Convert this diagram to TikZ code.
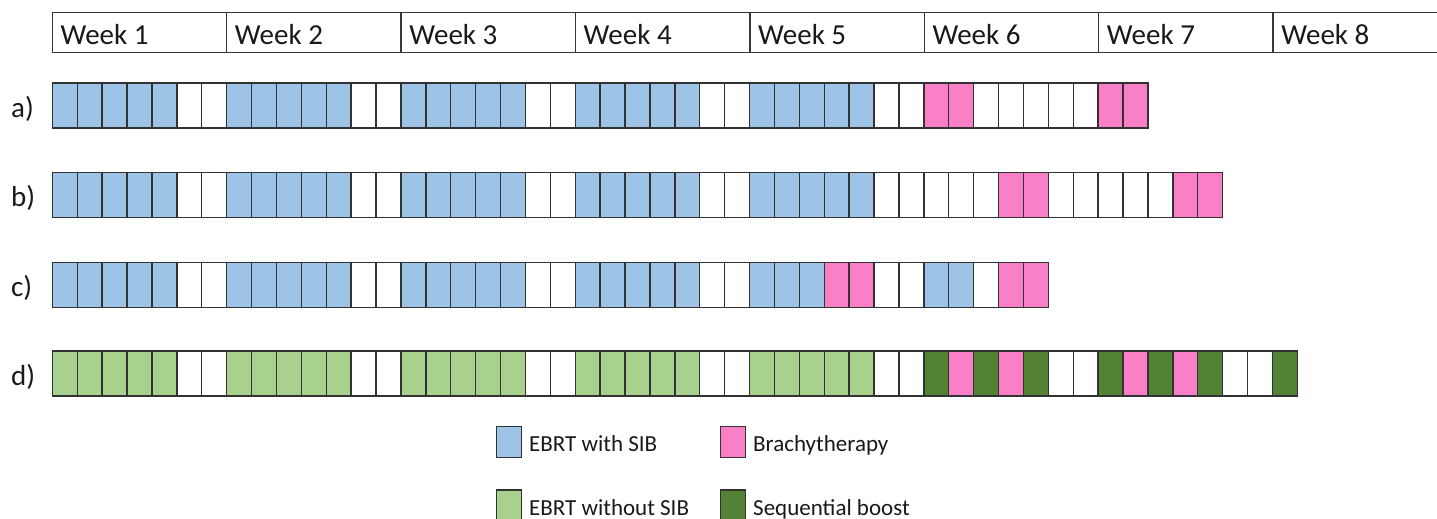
\documentclass[tikz,border=0pt]{standalone}
\usepackage{fontspec}
\setmainfont{Carlito}
\definecolor{ebrtblue}{RGB}{157,195,230}
\definecolor{brachy}{RGB}{249,128,199}
\definecolor{ebrtgreen}{RGB}{169,209,142}
\definecolor{seqgreen}{RGB}{84,130,53}
\definecolor{cellline}{RGB}{50,50,50}
\definecolor{headline}{RGB}{55,55,55}
\tikzset{
  cell/.style={draw=cellline, line width=1.4pt, minimum width=24.9pt, minimum height=45pt,
    inner sep=0pt, outer sep=0pt, anchor=north west},
  cB/.style={fill=ebrtblue}, cW/.style={fill=white}, cP/.style={fill=brachy},
  cG/.style={fill=ebrtgreen}, cD/.style={fill=seqgreen},
  weekbox/.style={draw=headline, line width=1.4pt, minimum width=174.4pt, minimum height=39.8pt,
    inner sep=0pt, outer sep=0pt, anchor=north west},
  weektext/.style={anchor=base west, inner sep=0pt, font=\fontsize{29}{33}\selectfont, text=black!90},
  rowlabel/.style={anchor=base west, inner sep=0pt, font=\fontsize{29}{33}\selectfont, text=black!90},
  legbox/.style={draw=cellline, line width=1.4pt, minimum width=25pt, minimum height=31pt,
    inner sep=0pt, outer sep=0pt, anchor=north west},
  legtext/.style={anchor=base west, inner sep=0pt, font=\fontsize{23}{27}\selectfont, text=black!90}
}
\newcommand\drawrow[3]{%
  \foreach \c [count=\i from 0] in {#3} {
    \node[cell, c\c] (#1\i) at ({52.3+24.9*\i}, #2) {};
  }}
\begin{document}
\begin{tikzpicture}[x=1pt,y=-1pt]
\useasboundingbox (0,0) rectangle (1437,519);
\clip (0,0) rectangle (1437,519);
% header
\foreach \k in {1,...,8} {
  \node[weekbox] (w\k) at ({52.3+174.4*(\k-1)}, 12.5) {};
}
\foreach \k in {1,...,8} {
  \node[weektext] (wl\k) at ({60.3+174.4*(\k-1)}, 44.3) {Week \k};
}
% rows
\drawrow{a}{83}{B,B,B,B,B,W,W,B,B,B,B,B,W,W,B,B,B,B,B,W,W,B,B,B,B,B,W,W,B,B,B,B,B,W,W,P,P,W,W,W,W,W,P,P}
\drawrow{b}{172.7}{B,B,B,B,B,W,W,B,B,B,B,B,W,W,B,B,B,B,B,W,W,B,B,B,B,B,W,W,B,B,B,B,B,W,W,W,W,W,P,P,W,W,W,W,W,P,P}
\drawrow{c}{262.3}{B,B,B,B,B,W,W,B,B,B,B,B,W,W,B,B,B,B,B,W,W,B,B,B,B,B,W,W,B,B,B,P,P,W,W,B,B,W,P,P}
\drawrow{d}{351}{G,G,G,G,G,W,W,G,G,G,G,G,W,W,G,G,G,G,G,W,W,G,G,G,G,G,W,W,G,G,G,G,G,W,W,D,P,D,P,D,W,W,D,P,D,P,D,W,W,D}
% row labels
\node[rowlabel] (la) at (11,117) {a)};
\node[rowlabel] (lb) at (11,206.7) {b)};
\node[rowlabel] (lc) at (11,296.3) {c)};
\node[rowlabel] (ld) at (11,385) {d)};
% legend
\node[legbox, fill=ebrtblue] (k1) at (496.5,426.5) {};
\node[legtext] (t1) at (529,451.5) {EBRT with SIB};
\node[legbox, fill=brachy] (k2) at (720.5,426.5) {};
\node[legtext] (t2) at (753,451.5) {Brachytherapy};
\node[legbox, fill=ebrtgreen] (k3) at (496.5,490) {};
\node[legtext] (t3) at (529,515) {EBRT without SIB};
\node[legbox, fill=seqgreen] (k4) at (720.5,490) {};
\node[legtext] (t4) at (753,515) {Sequential boost};
\end{tikzpicture}
\end{document}
